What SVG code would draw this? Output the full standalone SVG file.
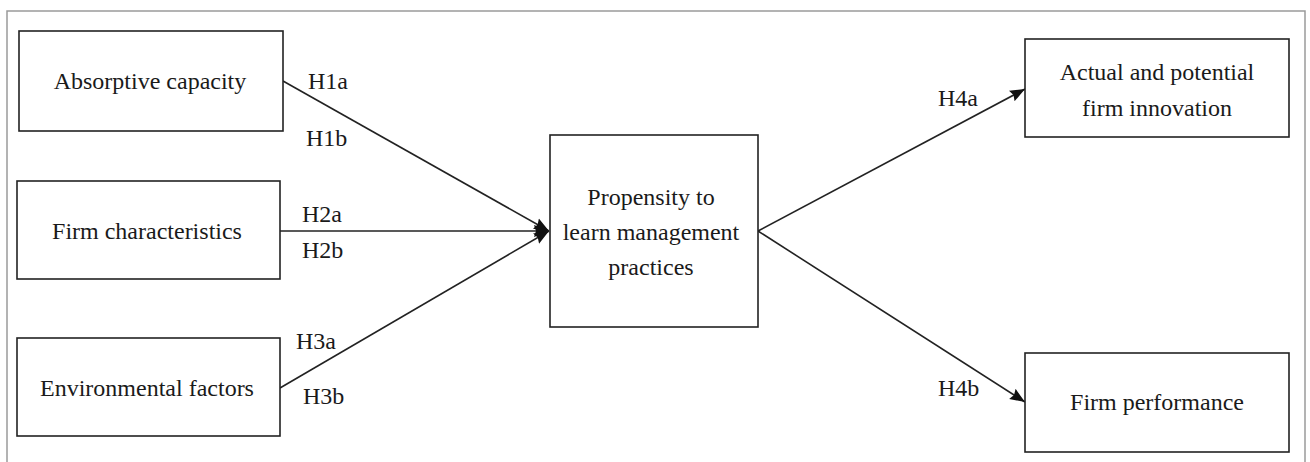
<svg xmlns="http://www.w3.org/2000/svg" width="1310" height="462" viewBox="0 0 1310 462">
  <defs>
    <marker id="arrow" markerUnits="userSpaceOnUse" markerWidth="16" markerHeight="14" refX="15" refY="7" orient="auto">
      <path d="M0,1 L15,7 L0,13 L2,7 Z" fill="#111"/>
    </marker>
  </defs>
  <style>
    .box { fill: #fff; stroke: #222; stroke-width: 1.6; }
    text { font-family: "Liberation Serif", "Times New Roman", "DejaVu Serif", serif; font-size: 24px; fill: #1a1a1a; }
    .lbl { text-anchor: middle; }
    .edge { stroke: #222; stroke-width: 1.6; fill: none; marker-end: url(#arrow); }
  </style>
  <rect width="1310" height="462" fill="#fff"/>
  <!-- outer frame (open at the bottom) -->
  <path d="M7,470 L7,11 L1305,11 L1305,470" fill="none" stroke="#9a9a9a" stroke-width="1.5"/>

  <g id="connectors">
    <line class="edge" x1="283" y1="81" x2="549" y2="231"/>
    <line class="edge" x1="280" y1="231" x2="549" y2="231"/>
    <line class="edge" x1="280" y1="388" x2="549" y2="231"/>
    <line class="edge" x1="758" y1="231" x2="1025" y2="89"/>
    <line class="edge" x1="758" y1="231" x2="1025" y2="402"/>
    <text font-family="Liberation Serif, serif" x="308" y="89">H1a</text>
    <text x="306" y="146">H1b</text>
    <text x="302" y="222">H2a</text>
    <text x="302" y="258">H2b</text>
    <text x="296" y="349">H3a</text>
    <text x="303" y="404">H3b</text>
    <text x="938" y="106">H4a</text>
    <text x="938" y="396">H4b</text>
  </g>

  <g id="absorptive-capacity">
    <rect class="box" x="19" y="31" width="264" height="100"/>
    <text class="lbl" x="150" y="89">Absorptive capacity</text>
  </g>
  <g id="firm-characteristics">
    <rect class="box" x="17" y="181" width="263" height="98"/>
    <text class="lbl" x="147" y="239">Firm characteristics</text>
  </g>
  <g id="environmental-factors">
    <rect class="box" x="17" y="338" width="263" height="98"/>
    <text class="lbl" x="147" y="396">Environmental factors</text>
  </g>
  <g id="propensity">
    <rect class="box" x="550" y="135" width="208" height="192"/>
    <text class="lbl" x="651" y="205">Propensity to</text>
    <text class="lbl" x="651" y="240">learn management</text>
    <text class="lbl" x="651" y="275">practices</text>
  </g>
  <g id="innovation">
    <rect class="box" x="1025" y="39" width="264" height="98"/>
    <text class="lbl" x="1157" y="80">Actual and potential</text>
    <text class="lbl" x="1157" y="116">firm innovation</text>
  </g>
  <g id="firm-performance">
    <rect class="box" x="1025" y="353" width="264" height="99"/>
    <text class="lbl" x="1157" y="410">Firm performance</text>
  </g>
</svg>
